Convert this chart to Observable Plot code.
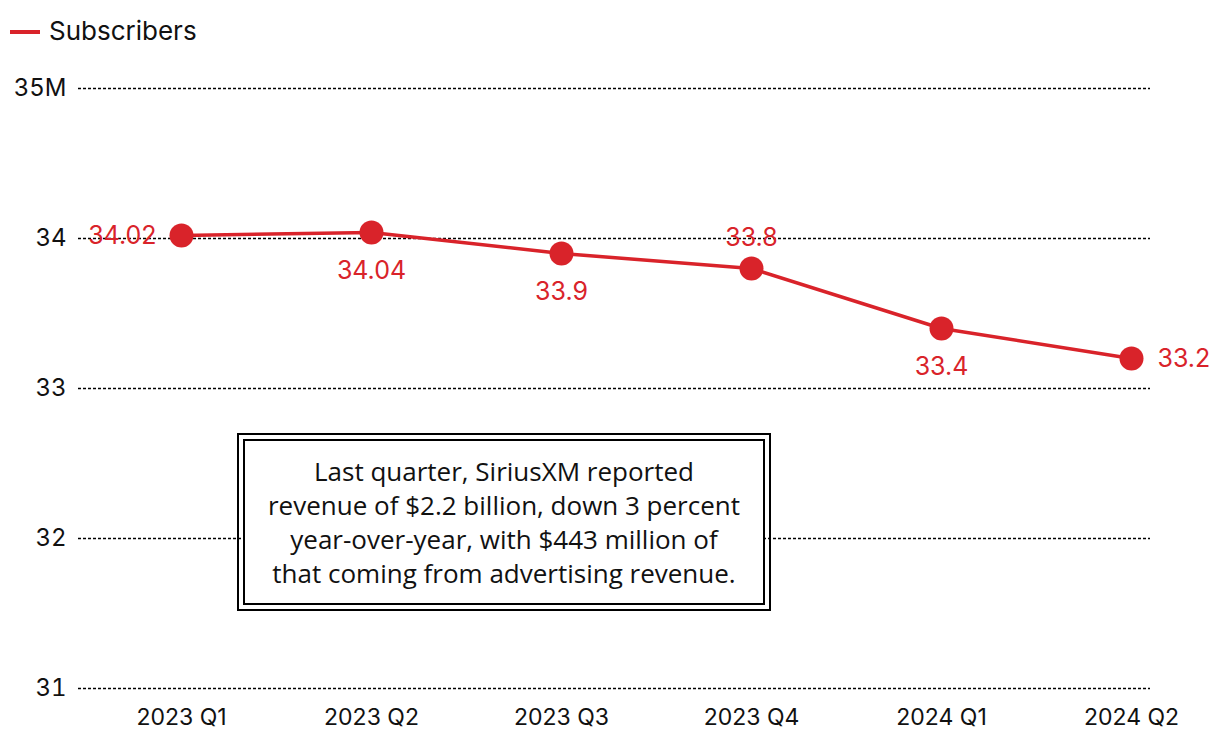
<!DOCTYPE html>
<html>
<head>
<meta charset="utf-8">
<script src="https://cdn.jsdelivr.net/npm/d3@7"></script>
<script src="https://cdn.jsdelivr.net/npm/@observablehq/plot@0.6"></script>
<style>
  html, body { margin: 0; padding: 0; background: #fff; }
  #wrap { position: relative; width: 1220px; height: 744px; overflow: hidden; }
  #legend { height: 60px; position: relative; font-family: Inter, "Liberation Sans", sans-serif; font-size: 26px; color: #111; }
  #legend .swatch { position: absolute; left: 10px; top: 30px; width: 30px; height: 4px; background: #d9232a; }
  #legend .lab { position: absolute; left: 49px; top: 17px; line-height: 28px; }
  #note { position: absolute; left: 243px; top: 439px; width: 518px; height: 162px; border: 2px solid #000; outline: 2px solid #000; outline-offset: 4px; background: #fff;
    display: flex; align-items: center; justify-content: center; text-align: center; font-family: "Open Sans", Lato, sans-serif; font-size: 26px; line-height: 34px; color: #111; white-space: nowrap; }
</style>
</head>
<body>
<div id="wrap">
  <div id="legend"><div class="swatch"></div><div class="lab">Subscribers</div></div>
  <div id="chart"></div>
  <div id="note">Last quarter, SiriusXM reported<br>revenue of $2.2 billion, down 3 percent<br>year-over-year, with $443 million of<br>that coming from advertising revenue.</div>
</div>
<script>
const quarters = ["2023 Q1", "2023 Q2", "2023 Q3", "2023 Q4", "2024 Q1", "2024 Q2"];
const subscribers = [34.02, 34.04, 33.9, 33.8, 33.4, 33.2];
const labelText = ["34.02", "34.04", "33.9", "33.8", "33.4", "33.2"];
const labelSide = ["left", "below", "below", "above", "below", "right"];
const yTicks = [31, 32, 33, 34, 35];

const red = "#d9232a";
const data = quarters.map((q, i) => ({ q, v: subscribers[i], t: labelText[i], side: labelSide[i] }));

const chart = Plot.plot({
  width: 1220,
  height: 684,
  marginTop: 28,
  marginBottom: 56,
  marginLeft: 78,
  marginRight: 70,
  style: { fontFamily: "Inter, 'Liberation Sans', sans-serif", color: "#111", background: "transparent" },
  x: { type: "point", domain: quarters, padding: 0, insetLeft: 102, insetRight: 18, label: null },
  y: { domain: [31, 35], label: null },
  marks: [
    Plot.ruleY(yTicks, { stroke: "#000", strokeWidth: 1.4, strokeDasharray: "3,2" }),
    Plot.axisY({ ticks: yTicks, tickSize: 0, tickPadding: 12, fontSize: 24, tickFormat: d => d === 35 ? "35M" : String(d), label: null }),
    Plot.axisX({ tickSize: 0, tickPadding: 20, fontSize: 23, label: null }),
    Plot.line(data, { x: "q", y: "v", stroke: red, strokeWidth: 3.5 }),
    Plot.dot(data, { x: "q", y: "v", r: 12, fill: red }),
    Plot.text(data, { filter: d => d.side === "left", x: "q", y: "v", text: "t", dx: -25, textAnchor: "end", fill: red, fontSize: 25 }),
    Plot.text(data, { filter: d => d.side === "right", x: "q", y: "v", text: "t", dx: 26, textAnchor: "start", fill: red, fontSize: 25 }),
    Plot.text(data, { filter: d => d.side === "below", x: "q", y: "v", text: "t", dy: 38, fill: red, fontSize: 25 }),
    Plot.text(data, { filter: d => d.side === "above", x: "q", y: "v", text: "t", dy: -31, fill: red, fontSize: 25 })
  ]
});
document.getElementById("chart").appendChild(chart);
</script>
</body>
</html>
